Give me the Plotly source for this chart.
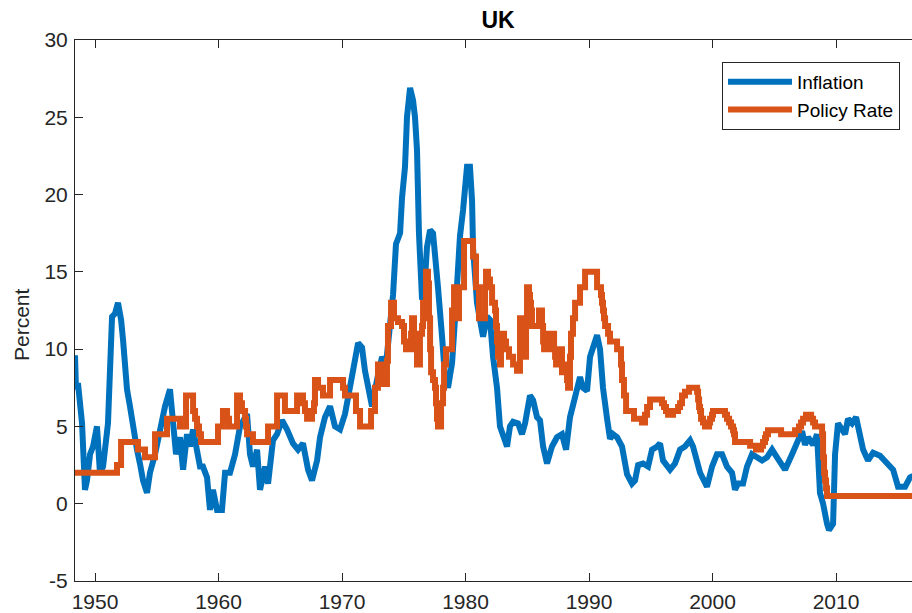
import plotly.graph_objects as go

# ---------------- data ----------------
infl_year = [1948.38, 1948.46, 1948.62, 1948.95, 1949.19, 1949.35, 1949.60, 1949.84, 1950.16, 1950.40,
             1950.65, 1951.05, 1951.38, 1951.62, 1951.86, 1952.11, 1952.27, 1952.59, 1952.83, 1953.08,
             1953.40, 1953.64, 1953.89, 1954.21, 1954.45, 1954.86, 1955.26, 1955.67, 1956.07, 1956.32,
             1956.56, 1956.88, 1957.13, 1957.45, 1957.69, 1957.94, 1958.26, 1958.50, 1958.74, 1959.07,
             1959.31, 1959.55, 1959.88, 1960.28, 1960.53, 1960.93, 1961.34, 1961.74, 1962.31, 1962.55,
             1962.79, 1963.12, 1963.36, 1963.77, 1964.01, 1964.41, 1964.74, 1965.14, 1965.55, 1966.03,
             1966.44, 1966.84, 1967.25, 1967.57, 1967.98, 1968.22, 1968.62, 1969.03, 1969.43, 1969.84,
             1970.24, 1970.49, 1970.89, 1971.30, 1971.62, 1971.86, 1972.27, 1972.43, 1972.83, 1973.24,
             1973.56, 1973.89, 1974.13, 1974.37, 1974.70, 1974.86, 1975.10, 1975.26, 1975.51, 1975.75,
             1975.91, 1976.07, 1976.23, 1976.48, 1976.64, 1976.88, 1977.13, 1977.37, 1977.69, 1977.77,
             1978.10, 1978.34, 1978.58, 1978.91, 1979.15, 1979.31, 1979.55, 1979.80, 1980.12, 1980.36,
             1980.53, 1980.61, 1980.77, 1980.93, 1981.17, 1981.42, 1981.74, 1981.98, 1982.23, 1982.55,
             1982.79, 1983.04, 1983.36, 1983.60, 1983.85, 1984.25, 1984.57, 1984.82, 1985.22, 1985.47,
             1985.79, 1986.03, 1986.28, 1986.60, 1987.00, 1987.41, 1987.81, 1988.14, 1988.46, 1988.87,
             1989.27, 1989.51, 1989.84, 1990.08, 1990.49, 1990.65, 1990.89, 1991.13, 1991.46, 1991.70,
             1991.94, 1992.27, 1992.67, 1993.08, 1993.48, 1993.72, 1993.97, 1994.37, 1994.78, 1995.10,
             1995.51, 1995.75, 1995.99, 1996.56, 1996.96, 1997.37, 1997.77, 1998.18, 1998.42, 1998.99,
             1999.55, 1999.96, 2000.36, 2000.77, 2001.17, 2001.58, 2001.82, 2002.06, 2002.47, 2002.79,
             2003.20, 2003.60, 2004.01, 2004.41, 2004.82, 2005.22, 2005.87, 2006.44, 2006.84, 2007.25,
             2007.49, 2007.73, 2008.14, 2008.46, 2008.70, 2008.95, 2009.27, 2009.43, 2009.76, 2009.92,
             2010.16, 2010.49, 2010.73, 2010.97, 2011.30, 2011.62, 2011.94, 2012.19, 2012.59, 2013.00,
             2013.56, 2014.13, 2014.62, 2015.02, 2015.59, 2015.99, 2016.23]
inflation = [9.6, 7.4, 7.8, 5.2, 0.9, 1.5, 3.2, 3.7, 5.0, 2.0,
             2.4, 5.2, 12.1, 12.3, 13.0, 11.9, 10.6, 7.4, 6.3, 4.8,
             3.5, 2.6, 1.5, 0.7, 2.0, 3.2, 5.0, 6.3, 7.4, 5.4,
             3.2, 4.3, 2.2, 4.5, 3.7, 4.8, 3.5, 2.4, 2.4, 1.7,
             -0.4, 0.9, -0.4, -0.4, 2.0, 2.0, 3.2, 5.0, 5.8, 3.2,
             2.4, 3.5, 0.9, 2.4, 1.3, 4.1, 4.5, 5.4, 4.8, 3.9,
             3.5, 3.9, 2.2, 1.5, 2.8, 4.3, 5.6, 6.3, 5.0, 4.8,
             5.8, 7.1, 8.6, 10.4, 10.1, 8.6, 6.7, 6.3, 8.0, 9.5,
             9.0, 12.0, 13.5, 16.8, 17.5, 19.8, 21.8, 25.0, 26.9, 26.1,
             25.0, 22.9, 17.5, 13.2, 13.5, 16.6, 17.7, 17.5, 15.3, 14.0,
             10.8, 8.2, 7.5, 9.1, 12.0, 15.0, 17.3, 19.0, 21.8, 21.8,
             19.6, 16.5, 14.7, 13.0, 11.9, 10.8, 12.1, 11.9, 9.5, 7.5,
             5.0, 4.5, 3.7, 5.0, 5.3, 5.2, 4.5, 5.2, 7.0, 6.7,
             5.6, 5.4, 3.7, 2.6, 3.7, 4.3, 4.5, 3.5, 5.6, 6.9,
             8.2, 7.5, 7.3, 9.5, 10.6, 10.9, 10.0, 7.5, 5.5, 4.2,
             4.5, 4.3, 3.7, 1.9, 1.3, 1.5, 2.5, 2.6, 2.4, 3.5,
             3.7, 3.9, 2.8, 2.2, 2.6, 3.5, 3.7, 4.1, 3.7, 2.0,
             1.1, 2.4, 3.2, 3.2, 2.4, 2.0, 0.9, 1.3, 1.3, 2.4,
             3.2, 3.0, 2.8, 3.0, 3.5, 3.0, 2.2, 3.2, 3.9, 4.7,
             3.8, 4.3, 3.8, 4.5, 0.7, 0.0, -1.3, -1.7, -1.3, 3.2,
             5.2, 4.8, 4.5, 5.5, 5.2, 5.6, 4.5, 3.5, 2.8, 3.3,
             3.1, 2.6, 2.2, 1.1, 1.1, 1.7, 1.8]

rate_year = [1948.38, 1951.78, 1952.11, 1953.48, 1954.05, 1954.86, 1955.83, 1956.88, 1957.37, 1957.94,
             1958.10, 1958.26, 1958.42, 1958.58, 1959.96, 1960.36, 1960.69, 1960.85, 1961.50, 1961.74,
             1961.90, 1962.15, 1962.23, 1962.31, 1962.79, 1964.01, 1964.74, 1965.38, 1966.36, 1966.84,
             1967.00, 1967.17, 1967.57, 1967.73, 1967.81, 1968.06, 1968.46, 1969.03, 1970.08, 1970.24,
             1971.13, 1971.46, 1972.35, 1972.67, 1972.91, 1973.16, 1973.32, 1973.64, 1973.72, 1973.97,
             1974.21, 1974.53, 1974.86, 1975.02, 1975.18, 1975.59, 1975.67, 1975.83, 1975.99, 1976.07,
             1976.31, 1976.48, 1976.56, 1976.80, 1976.96, 1977.04, 1977.13, 1977.21, 1977.37, 1977.53,
             1977.61, 1977.69, 1977.77, 1978.02, 1978.18, 1978.26, 1978.42, 1978.91, 1979.07, 1979.23,
             1979.39, 1979.47, 1979.88, 1980.61, 1980.85, 1981.09, 1981.58, 1981.66, 1981.82, 1981.98,
             1982.15, 1982.39, 1982.47, 1982.55, 1982.63, 1982.79, 1982.87, 1982.96, 1983.12, 1983.28,
             1983.52, 1983.85, 1984.17, 1984.41, 1984.49, 1984.57, 1984.66, 1984.90, 1984.98, 1985.14,
             1985.22, 1985.30, 1985.38, 1985.95, 1986.19, 1986.28, 1986.36, 1986.76, 1987.17, 1987.25,
             1987.33, 1987.57, 1987.81, 1987.98, 1988.14, 1988.22, 1988.30, 1988.46, 1988.54, 1988.70,
             1988.87, 1989.27, 1989.68, 1990.65, 1990.97, 1991.05, 1991.13, 1991.21, 1991.30, 1991.54,
             1991.70, 1992.27, 1992.59, 1992.67, 1992.83, 1993.00, 1993.64, 1994.29, 1994.53, 1994.70,
             1994.94, 1995.91, 1996.07, 1996.23, 1996.40, 1996.80, 1997.21, 1997.37, 1997.53, 1997.77,
             1998.10, 1998.75, 1998.83, 1998.91, 1998.99, 1999.07, 1999.23, 1999.39, 1999.72, 1999.80,
             1999.96, 2000.04, 2001.01, 2001.17, 2001.34, 2001.50, 2001.66, 2001.74, 2001.82, 2003.04,
             2003.52, 2003.93, 2004.09, 2004.25, 2004.33, 2004.49, 2005.55, 2006.68, 2007.00, 2007.17,
             2007.33, 2007.57, 2007.98, 2008.14, 2008.30, 2008.87, 2008.95, 2009.03, 2009.11, 2009.19,
             2009.27, 2016.23]
policy_rate = [2.0, 2.5, 4.0, 3.5, 3.0, 4.5, 5.5, 5.0, 7.0, 6.0,
               5.5, 5.0, 4.5, 4.0, 5.0, 6.0, 5.5, 5.0, 7.0, 6.5,
               6.0, 5.5, 5.0, 4.5, 4.0, 5.0, 7.0, 6.0, 7.0, 6.5,
               6.0, 5.5, 6.0, 6.5, 8.0, 7.5, 7.0, 8.0, 7.5, 7.0,
               6.0, 5.0, 6.0, 7.5, 9.0, 8.5, 7.75, 9.25, 11.5, 13.0,
               12.0, 11.75, 11.5, 10.5, 10.0, 11.0, 12.0, 11.0, 10.0, 9.0,
               11.0, 11.5, 13.0, 15.0, 14.25, 12.0, 10.0, 8.5, 8.0, 7.5,
               6.5, 5.5, 5.0, 6.5, 7.5, 9.0, 10.0, 12.5, 14.0, 12.5,
               12.0, 14.0, 17.0, 16.0, 14.0, 12.0, 14.0, 15.0, 14.5, 14.0,
               13.0, 12.5, 11.5, 10.5, 9.5, 9.0, 10.0, 11.0, 10.5, 10.0,
               9.5, 9.0, 8.6, 12.0, 11.0, 10.5, 9.5, 12.0, 14.0, 13.5,
               13.0, 12.5, 11.5, 12.5, 11.5, 10.5, 10.0, 11.0, 10.0, 9.5,
               9.0, 10.0, 8.5, 9.0, 8.5, 8.0, 7.5, 9.5, 11.0, 12.0,
               13.0, 14.0, 15.0, 14.0, 13.5, 13.0, 12.5, 12.0, 11.5, 11.0,
               10.5, 10.0, 9.0, 8.0, 7.0, 6.0, 5.5, 5.25, 5.75, 6.25,
               6.75, 6.5, 6.25, 6.0, 5.75, 6.0, 6.25, 6.5, 7.0, 7.25,
               7.5, 7.25, 6.75, 6.25, 6.0, 5.5, 5.25, 5.0, 5.25, 5.5,
               5.75, 6.0, 5.75, 5.5, 5.25, 5.0, 4.75, 4.5, 4.0, 3.75,
               3.5, 3.75, 4.0, 4.25, 4.5, 4.75, 4.5, 4.75, 5.0, 5.25,
               5.5, 5.75, 5.5, 5.25, 5.0, 4.5, 3.0, 2.0, 1.5, 1.0,
               0.5, 0.5]

x_ticks = [1950, 1960, 1970, 1980, 1990, 2000, 2010]
y_ticks = [-5, 0, 5, 10, 15, 20, 25, 30]

# ---------------- figure ----------------
AX = "#262626"
FONT = "Liberation Sans, Arial, Helvetica, sans-serif"

fig = go.Figure()
fig.add_trace(go.Scatter(x=infl_year, y=inflation, mode="lines", name="Inflation",
                         line=dict(color="#0072BD", width=6)))
fig.add_trace(go.Scatter(x=rate_year, y=policy_rate, mode="lines", name="Policy Rate",
                         line=dict(color="#D95319", width=6, shape="hv")))

fig.update_layout(
    width=912, height=613,
    margin=dict(l=75, r=0, t=40, b=32, autoexpand=False),
    paper_bgcolor="white", plot_bgcolor="white",
    font=dict(family=FONT, color=AX),
    title=dict(text="<b>UK</b>", x=498 / 912, xref="container", xanchor="center",
               y=1 - 20 / 613, yref="container", yanchor="middle",
               font=dict(size=23, color="black", family=FONT)),
    showlegend=True,
    legend=dict(x=(722 - 75) / 837, y=1 - (62 - 40) / 541, xanchor="left", yanchor="top",
                bgcolor="white", bordercolor=AX, borderwidth=1,
                font=dict(size=19, color="black", family=FONT),
                itemwidth=64, tracegroupgap=0),
    xaxis=dict(range=[1948.38, 2016.15], tickvals=x_ticks, ticktext=[str(t) for t in x_ticks],
               ticks="inside", ticklen=8, tickcolor=AX, tickwidth=1,
               showline=True, linecolor=AX, linewidth=1, mirror="ticks",
               showgrid=False, zeroline=False, automargin=False, ticklabelstandoff=2,
               tickfont=dict(size=21, color=AX, family=FONT)),
    yaxis=dict(range=[-5, 30], tickvals=y_ticks, ticktext=[str(t) for t in y_ticks],
               ticks="inside", ticklen=8, tickcolor=AX, tickwidth=1,
               showline=True, linecolor=AX, linewidth=1, mirror=False,
               showgrid=False, zeroline=False, automargin=False, ticklabelstandoff=2,
               tickfont=dict(size=21, color=AX, family=FONT)),
    annotations=[dict(text="Percent", xref="paper", yref="paper",
                      x=(21 - 75) / 837, y=0.5 + (310.5 - 325) / 541,
                      xanchor="center", yanchor="middle", textangle=-90, showarrow=False,
                      font=dict(size=21, color=AX, family=FONT))],
)

fig.write_html("out.html", config={"displayModeBar": False},
               post_script="document.body.style.margin='0';document.body.style.overflow='hidden';")
